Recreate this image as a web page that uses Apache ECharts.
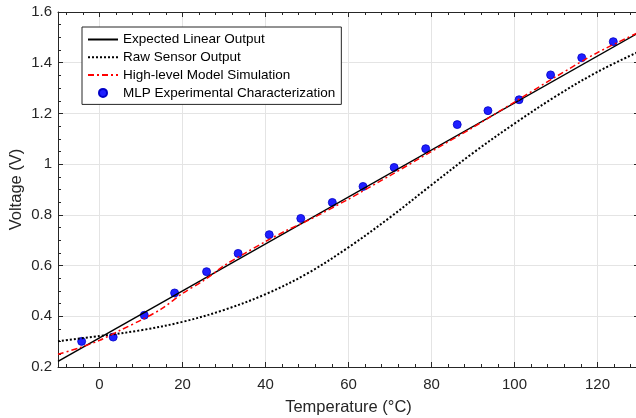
<!DOCTYPE html>
<html>
<head>
<meta charset="utf-8">
<script src="https://cdn.jsdelivr.net/npm/echarts@6/dist/echarts.min.js"></script>
<style>
  html, body { margin: 0; padding: 0; background: #fff; }
  #chart { width: 636px; height: 418px; }
</style>
</head>
<body>
<div id="chart"></div>
<script>
// values
const linearX = [-10, 130];
const linearY = [0.222, 1.519];

const rawX = [-10, 0, 10, 20, 30, 40, 50, 60, 70, 80, 90, 100, 110, 120, 130];
const rawY = [0.302, 0.322, 0.345, 0.378, 0.425, 0.487, 0.568, 0.672, 0.79, 0.918, 1.044, 1.16, 1.268, 1.364, 1.444];

const modelX = [-10, -5, 0, 5, 10, 15, 20, 25, 28, 30, 35, 40, 45, 50, 60, 70, 80, 90, 100, 110, 120, 130];
const modelY = [0.25, 0.275, 0.305, 0.345, 0.385, 0.43, 0.49, 0.54, 0.575, 0.6, 0.648, 0.695, 0.738, 0.776, 0.862, 0.955, 1.05, 1.145, 1.245, 1.345, 1.44, 1.52];

const mlpX = [-4.3, 3.3, 10.8, 18.1, 25.8, 33.4, 40.9, 48.5, 56.1, 63.5, 71.0, 78.6, 86.2, 93.6, 101.1, 108.7, 116.2, 123.8];
const mlpY = [0.301, 0.318, 0.404, 0.492, 0.576, 0.648, 0.722, 0.786, 0.849, 0.912, 0.987, 1.061, 1.156, 1.211, 1.254, 1.352, 1.42, 1.483];

const xMajor = [0, 20, 40, 60, 80, 100, 120];
const xMinor = [-8, -4, 4, 8, 12, 16, 24, 28, 32, 36, 44, 48, 52, 56, 64, 68, 72, 76, 84, 88, 92, 96, 104, 108, 112, 116, 124, 128];

const seriesNames = ['Expected Linear Output', 'Raw Sensor Output', 'High-level Model Simulation', 'MLP Experimental Characterization'];

const zip = (xs, ys) => xs.map((x, i) => [x, ys[i]]);

const FONT = 'Liberation Sans';
const AX = '#262626';

// x axes: bottom/top, major/minor ticks all pointing inward
function xAxisDef(pos, values, len, main) {
  return {
    type: 'value',
    position: pos,
    min: -10,
    max: 130,
    splitNumber: 7,
    axisLine: { show: main, onZero: false, lineStyle: { color: AX, width: 1 } },
    axisTick: { show: true, inside: true, length: len, customValues: values, lineStyle: { color: AX, width: 1 } },
    axisLabel: {
      show: main && pos === 'bottom',
      customValues: xMajor,
      color: AX, fontFamily: FONT, fontSize: 15, margin: 10
    },
    splitLine: { show: main && pos === 'bottom', lineStyle: { color: '#e4e4e4', width: 1 } },
    name: main && pos === 'bottom' ? 'Temperature (°C)' : '',
    nameLocation: 'middle',
    nameGap: 32,
    nameTextStyle: { color: AX, fontFamily: FONT, fontSize: 16.5 }
  };
}

function yAxisDef(pos) {
  const left = pos === 'left';
  return {
    type: 'value',
    position: pos,
    min: 0.2,
    max: 1.6,
    interval: 0.2,
    axisLine: { show: true, onZero: false, lineStyle: { color: AX, width: 1 } },
    axisTick: { show: true, inside: true, length: 5, lineStyle: { color: AX, width: 1 } },
    minorTick: { show: true, splitNumber: 4, length: 3, lineStyle: { color: AX, width: 1 } },
    axisLabel: { show: left, color: AX, fontFamily: FONT, fontSize: 15, margin: 6 },
    splitLine: { show: left, lineStyle: { color: '#e4e4e4', width: 1 } },
    name: left ? 'Voltage (V)' : '',
    nameLocation: 'middle',
    nameGap: 33,
    nameMoveOverlap: false,
    nameTextStyle: { color: AX, fontFamily: FONT, fontSize: 16.5 }
  };
}

const chart = echarts.init(document.getElementById('chart'), null, { renderer: 'canvas' });

chart.setOption({
  animation: false,
  backgroundColor: '#fff',
  grid: { left: 58, right: -3, top: 12, bottom: 51, outerBoundsMode: 'none' },
  xAxis: [
    xAxisDef('bottom', xMajor, 5, true),
    xAxisDef('bottom', xMinor, 3, false),
    xAxisDef('top', xMajor, 5, true),
    xAxisDef('top', xMinor, 3, false)
  ],
  yAxis: [yAxisDef('left'), yAxisDef('right')],
  legend: {
    orient: 'vertical',
    left: 82,
    top: 27,
    // line entries: hide the dot ECharts puts in the middle of line icons
    data: seriesNames.map((name, i) => i < 3 ? { name, itemStyle: { opacity: 0 } } : { name }),
    itemWidth: 30,
    itemHeight: 8,
    itemGap: 2.8,
    padding: [5, 6, 4, 5],
    backgroundColor: '#fff',
    borderColor: AX,
    borderWidth: 1,
    borderRadius: 0,
    textStyle: { color: '#000', fontFamily: FONT, fontSize: 13.5, lineHeight: 15 }
  },
  series: [
    {
      name: seriesNames[0],
      type: 'line',
      data: zip(linearX, linearY),
      symbol: 'none',
      lineStyle: { color: '#000', width: 1.5 },
      itemStyle: { color: '#000' }
    },
    {
      name: seriesNames[1],
      type: 'line',
      data: zip(rawX, rawY),
      symbol: 'none',
      smooth: 0.35,
      lineStyle: { color: '#000', width: 2, type: [2, 2] },
      itemStyle: { color: '#000' }
    },
    {
      name: seriesNames[2],
      type: 'line',
      data: zip(modelX, modelY),
      symbol: 'none',
      smooth: 0.3,
      lineStyle: { color: '#ff0000', width: 1.5, type: [6, 3, 2, 3] },
      itemStyle: { color: '#ff0000' }
    },
    {
      name: seriesNames[3],
      type: 'scatter',
      data: zip(mlpX, mlpY),
      symbol: 'circle',
      symbolSize: 8,
      itemStyle: { color: '#1f1fff', borderColor: '#0000c8', borderWidth: 0.8, opacity: 1 }
    }
  ]
});
</script>
</body>
</html>
